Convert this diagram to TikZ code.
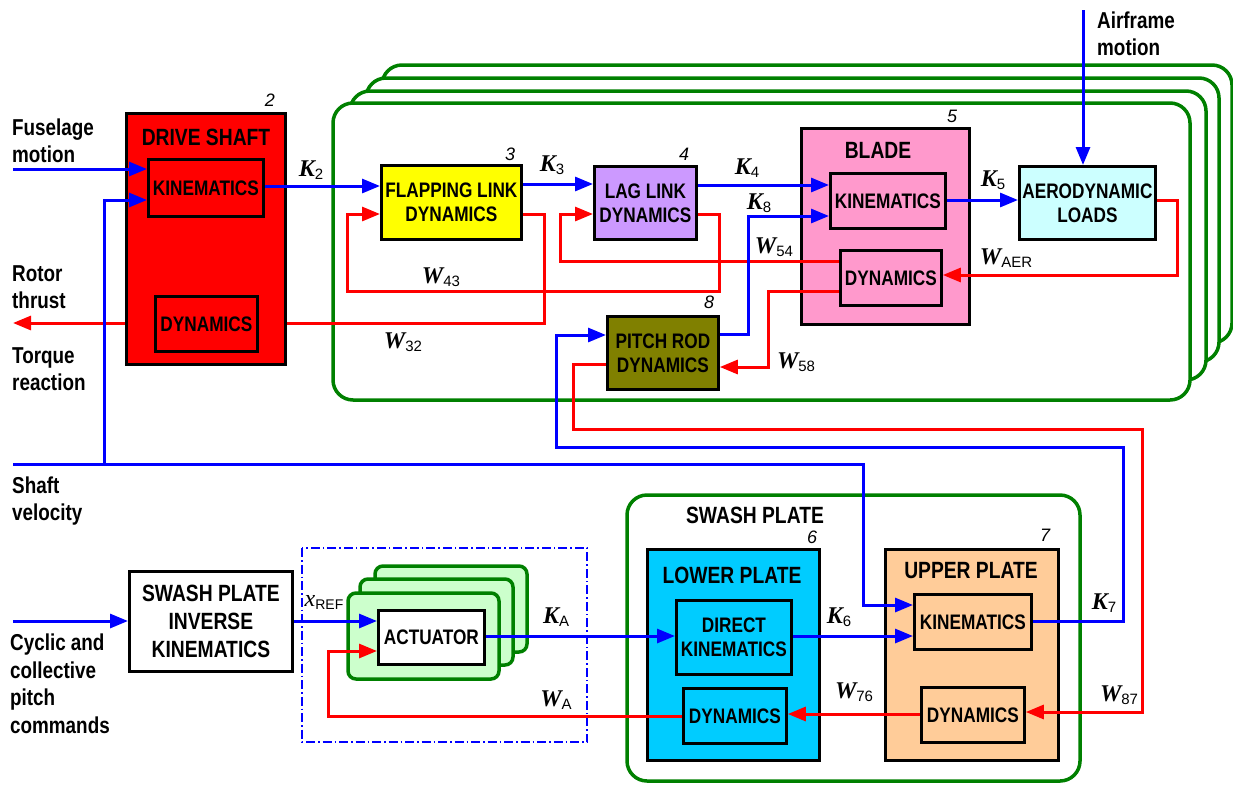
\documentclass[tikz,border=0pt]{standalone}
\usepackage{fontspec}
\setmainfont{Liberation Sans}
\newfontfamily\narf{Liberation Sans}[FakeStretch=0.82]
\newfontfamily\serfi{Liberation Serif}
\newfontfamily\subfnt{Liberation Sans}
\usetikzlibrary{arrows.meta}
\definecolor{cred}{HTML}{FF0000}
\definecolor{cblue}{HTML}{0000FF}
\definecolor{cgreen}{HTML}{008000}
\definecolor{cyellow}{HTML}{FFFF00}
\definecolor{clav}{HTML}{CC99FF}
\definecolor{cpink}{HTML}{FF99CC}
\definecolor{caero}{HTML}{CCFFFF}
\definecolor{colive}{HTML}{808000}
\definecolor{csky}{HTML}{00CCFF}
\definecolor{cpeach}{HTML}{FFCC99}
\definecolor{clgreen}{HTML}{CCFFCC}
\newcommand\mvlab[2]{{\serfi\bfseries\itshape\fontsize{24}{24}\selectfont #1}\raisebox{-3pt}{\subfnt\fontsize{15}{15}\selectfont #2}}
\tikzset{
  blk/.style={draw=black, line width=2.8pt, inner sep=0pt, anchor=north west,
    font=\narf\bfseries\fontsize{21}{24}\selectfont, align=center},
  ttl/.style={font=\narf\bfseries\fontsize{23.5}{28}\selectfont, inner sep=0pt, align=center},
  outl/.style={font=\narf\bfseries\fontsize{23}{27.5}\selectfont, inner sep=0pt, align=left, anchor=west},
  num/.style={font=\subfnt\itshape\fontsize{18}{18}\selectfont, inner sep=0pt},
  ml/.style={inner sep=0pt},
  gbox/.style={draw=cgreen, fill=white, line width=3.5pt, rounded corners=20pt},
  abox/.style={draw=cgreen, fill=clgreen, line width=3.5pt, rounded corners=8pt},
  conn/.style={line width=3pt},
  bl/.style={conn, draw=cblue},
  rd/.style={conn, draw=cred},
  arw/.style={-{Triangle[length=18pt,width=14pt]}},
}
\begin{document}
\begin{tikzpicture}[x=1pt,y=-1pt]
\useasboundingbox (0,0) rectangle (1233,785);

% rotor stack
\foreach \a/\b/\c/\d in {382/65/1232/343, 366/78/1219/362, 350/91/1206/380, 333/103/1190/400}
  \draw[gbox] (\a,\b) rectangle (\c,\d);
% swash plate group
\draw[gbox] (627,495) rectangle (1080,781);
% actuator group
\draw[cblue, line width=1.3pt, dash pattern=on 9pt off 3pt on 1.5pt off 3pt] (302,548) rectangle (587,742);
\draw[abox] (375,566) rectangle (527,652);
\draw[abox] (360,579) rectangle (513,665);
\draw[abox] (348,593) rectangle (499,679);

% big boxes
\node[blk, fill=cred, minimum width=159pt, minimum height=251pt] (ds) at (125,112) {};
\node[blk, fill=cpink, minimum width=168pt, minimum height=196pt] (blade) at (800,127) {};
\node[blk, fill=csky, minimum width=172pt, minimum height=211pt] (lower) at (646,548) {};
\node[blk, fill=cpeach, minimum width=173pt, minimum height=211pt] (upper) at (884,548) {};

% inner / single boxes
\node[blk, fill=cred, minimum width=115pt, minimum height=57pt] (dskin) at (147,158) {KINEMATICS};
\node[blk, fill=cred, minimum width=102pt, minimum height=55pt] (dsdyn) at (154,295) {DYNAMICS};
\node[blk, fill=cyellow, minimum width=140pt, minimum height=74pt] (flap) at (380,164) {FLAPPING LINK\\DYNAMICS};
\node[blk, fill=clav, minimum width=102pt, minimum height=73pt] (lag) at (593,165) {LAG LINK\\DYNAMICS};
\node[blk, fill=cpink, minimum width=115pt, minimum height=55pt] (bkin) at (829,172) {KINEMATICS};
\node[blk, fill=cpink, minimum width=101pt, minimum height=55pt] (bdyn) at (839,249) {DYNAMICS};
\node[blk, fill=caero, minimum width=136pt, minimum height=73pt] (aero) at (1018,165) {AERODYNAMIC\\LOADS};
\node[blk, fill=colive, minimum width=111pt, minimum height=73pt] (pitch) at (606,315) {PITCH ROD\\DYNAMICS};
\node[blk, fill=white, minimum width=163pt, minimum height=100pt, font=\narf\bfseries\fontsize{23.5}{28}\selectfont] (sinv) at (128,570) {SWASH PLATE\\INVERSE\\KINEMATICS};
\node[blk, fill=white, minimum width=106pt, minimum height=54pt] (actin) at (377,609) {ACTUATOR};
\node[blk, fill=csky, minimum width=115pt, minimum height=74pt] (dkin2) at (675,599) {DIRECT\\KINEMATICS};
\node[blk, fill=csky, minimum width=103pt, minimum height=55pt] (ldyn) at (682,687) {DYNAMICS};
\node[blk, fill=cpeach, minimum width=117pt, minimum height=55pt] (ukin) at (913,593) {KINEMATICS};
\node[blk, fill=cpeach, minimum width=103pt, minimum height=55pt] (udyn) at (920,686) {DYNAMICS};

% titles
\node[ttl] (dst) at (206,137) {DRIVE SHAFT};
\node[ttl] (blt) at (878,150) {BLADE};
\node[ttl] (lpt) at (732,575) {LOWER PLATE};
\node[ttl] (upt) at (971,571) {UPPER PLATE};
\node[ttl] (spt) at (755,515) {SWASH PLATE};

% numbers
\node[num] (n2) at (270,100) {2};
\node[num] (n3) at (510,154) {3};
\node[num] (n4) at (684,154) {4};
\node[num] (n5) at (952,116) {5};
\node[num] (n8) at (709,302) {8};
\node[num] (n6) at (812,537) {6};
\node[num] (n7) at (1045,535) {7};

% outer labels
\node[outl] (tfus) at (12,141) {Fuselage\\motion};
\node[outl] (trot) at (12,287) {Rotor\\thrust};
\node[outl] (ttor) at (12,369) {Torque\\reaction};
\node[outl] (tsv) at (12,501) {Shaft\\velocity};
\node[outl] (tcyc) at (10,684) {Cyclic and\\collective\\pitch\\commands};
\node[outl] (tair) at (1097,34) {Airframe\\motion};

% free ends
\coordinate (fusa) at (13,169);
\coordinate (rt) at (13,323);
\coordinate (sv) at (13,464);
\coordinate (svj) at (104,464);
\coordinate (cyc) at (13,621);
\coordinate (afm) at (1083,10);

% red connectors
\draw[rd,arw] (aero.east |- 0,200) -- (1177,200) -- (1177,275) -- (bdyn.east |- 0,275);
\draw[rd,arw] (bdyn.west |- 0,261) -- (560,261) -- (560,214) -- (lag.west |- 0,214);
\draw[rd,arw] (lag.east |- 0,214) -- (719,214) -- (719,291) -- (347,291) -- (347,214) -- (flap.west |- 0,214);
\draw[rd] (flap.east |- 0,214) -- (544,214) -- (544,323) -- (ds.east |- 0,323);
\draw[rd,arw] (ds.west |- 0,323) -- (rt);
\draw[rd,arw] (bdyn.west |- 0,291) -- (768,291) -- (768,367) -- (pitch.east |- 0,367);
\draw[rd,arw] (pitch.west |- 0,364) -- (573,364) -- (573,429) -- (1142,429) -- (1142,712) -- (udyn.east |- 0,712);
\draw[rd,arw] (udyn.west |- 0,714) -- (ldyn.east |- 0,714);
\draw[rd,arw] (ldyn.west |- 0,716) -- (328,716) -- (328,651) -- (actin.west |- 0,651);

% blue connectors
\draw[bl,arw] (fusa) -- (dskin.west |- fusa);
\draw[bl,arw] (sv) -- (863,464) -- (863,605) -- (ukin.west |- 0,605);
\draw[bl,arw] (svj) -- (104,200) -- (dskin.west |- 0,200);
\draw[bl,arw] (dskin.east |- 0,186) -- (flap.west |- 0,186);
\draw[bl,arw] (flap.east |- 0,184) -- (lag.west |- 0,184);
\draw[bl,arw] (lag.east |- 0,185) -- (bkin.west |- 0,185);
\draw[bl,arw] (bkin.east |- 0,200) -- (aero.west |- 0,200);
\draw[bl,arw] (afm) -- (afm |- aero.north);
\draw[bl,arw] (pitch.east |- 0,334) -- (748,334) -- (748,216) -- (bkin.west |- 0,216);
\draw[bl,arw] (ukin.east |- 0,621) -- (1123,621) -- (1123,447) -- (556,447) -- (556,335) -- (pitch.west |- 0,335);
\draw[bl,arw] (dkin2.east |- 0,636) -- (ukin.west |- 0,636);
\draw[bl,arw] (actin.east |- 0,636) -- (dkin2.west |- 0,636);
\draw[bl,arw] (sinv.east |- 0,621) -- (actin.west |- 0,621);
\draw[bl,arw] (cyc) -- (sinv.west |- cyc);

% variable labels
\node[ml] (lk2) at (311,170) {\mvlab{K}{2}};
\node[ml] (lk3) at (552,165) {\mvlab{K}{3}};
\node[ml] (lk4) at (747,168) {\mvlab{K}{4}};
\node[ml] (lk8) at (759,203) {\mvlab{K}{8}};
\node[ml] (lw54) at (774,247) {\mvlab{W}{54}};
\node[ml] (lw43) at (441,277) {\mvlab{W}{43}};
\node[ml] (lw32) at (403,342) {\mvlab{W}{32}};
\node[ml] (lk5) at (993,180) {\mvlab{K}{5}};
\node[ml] (lwaer) at (1006,258) {\mvlab{W}{AER}};
\node[ml] (lw58) at (796,362) {\mvlab{W}{58}};
\node[ml] (lka) at (556,617) {\mvlab{K}{A}};
\node[ml] (lwa) at (556,700) {\mvlab{W}{A}};
\node[ml, font=\fontsize{13}{13}\selectfont] (lxr) at (324,602) {{\serfi\itshape\fontsize{24}{24}\selectfont x}\raisebox{-3pt}{\subfnt\fontsize{14}{14}\selectfont REF}};
\node[ml] (lk6) at (839,617) {\mvlab{K}{6}};
\node[ml] (lw76) at (854,692) {\mvlab{W}{76}};
\node[ml] (lk7) at (1104,603) {\mvlab{K}{7}};
\node[ml] (lw87) at (1119,695) {\mvlab{W}{87}};
\end{tikzpicture}
\end{document}
